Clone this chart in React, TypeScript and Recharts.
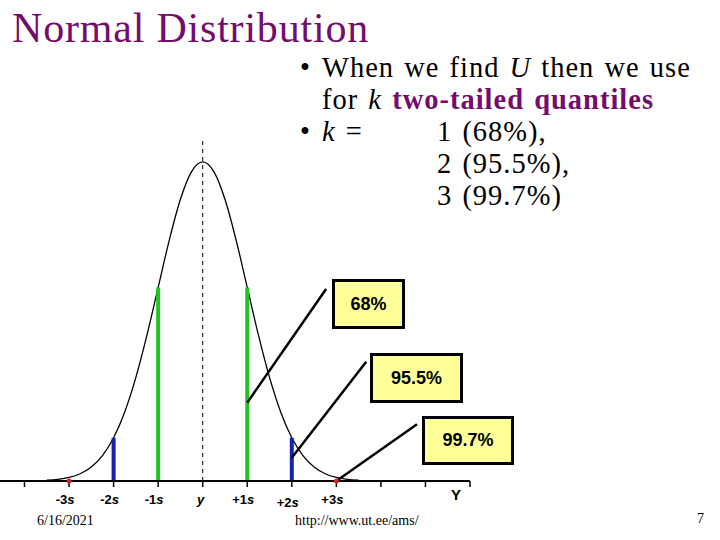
import { ComposedChart, Line, XAxis, YAxis, ReferenceLine, ReferenceDot } from "recharts";

// normal curve (x in sigma units, height in density)
const curveX = [
  -3.5, -3.25, -3, -2.75, -2.5, -2.25, -2, -1.75, -1.5, -1.25, -1, -0.75, -0.5, -0.25, 0,
  0.25, 0.5, 0.75, 1, 1.25, 1.5, 1.75, 2, 2.25, 2.5, 2.75, 3, 3.25, 3.5
];
const curveDensity = [
  0.001, 0.002, 0.0044, 0.0091, 0.0175, 0.0317, 0.054, 0.0863, 0.1295, 0.1826, 0.242, 0.3011, 0.3521, 0.3867, 0.3989,
  0.3867, 0.3521, 0.3011, 0.242, 0.1826, 0.1295, 0.0863, 0.054, 0.0317, 0.0175, 0.0091, 0.0044, 0.002, 0.001
];

const axisTicks = [-4, -3, -2, -1, 0, 1, 2, 3, 4, 5, 6];
const tickLabels = ["", "-3s", "-2s", "-1s", "y", "+1s", "+2s", "+3s", "", "", ""];

const quantileSigma = [1, 2];
const quantileHeight = [0.242, 0.054];
const quantileColors = ["#22c422", "#1421b4"];
const tailSigma = [3];

const boxLabels = ["68%", "95.5%", "99.7%"];
const leaderFrom = [
  { x: 1, y: 0.098 },
  { x: 2, y: 0.029 },
  { x: 3, y: 0 }
];
const leaderTo = [
  { x: 2.77, y: 0.24 },
  { x: 3.67, y: 0.149 },
  { x: 4.81, y: 0.071 }
];

const data = curveX.map((x, i) => ({ x, density: curveDensity[i] }));

const boxPos = [
  { left: 332, top: 279, width: 73, height: 50 },
  { left: 370, top: 353, width: 93, height: 50 },
  { left: 422, top: 416, width: 92, height: 49 }
];

const serif = '"Liberation Serif", "Times New Roman", serif';
const sans = '"Liberation Sans", Arial, sans-serif';
const purple = "#740c6e";

function SigmaTick(props: any) {
  const { x, y, payload } = props;
  const label = tickLabels[axisTicks.indexOf(payload.value)];
  if (!label) return null;
  if (label === "y") {
    return (
      <text x={x - 2} y={y + 15} textAnchor="middle" fontFamily={sans} fontWeight="bold" fontStyle="italic" fontSize={13} fill="#000">
        y
      </text>
    );
  }
  const dy = label === "+2s" ? 18 : 15;
  return (
    <text x={x - 4} y={y + dy} textAnchor="middle" fontFamily={sans} fontWeight="bold" fontSize={13} fill="#000">
      <tspan>{label.slice(0, -1)}</tspan>
      <tspan fontStyle="italic">s</tspan>
    </text>
  );
}

// slide bullet text: lines are packed 32px apart
function line(top: number, children: any, left = 322) {
  return (
    <div
      style={{
        position: "absolute",
        left,
        top,
        height: 32,
        lineHeight: "32px",
        fontSize: 28.5,
        letterSpacing: 1,
        wordSpacing: 2,
        fontFamily: serif,
        whiteSpace: "nowrap",
        color: "#000"
      }}
    >
      {children}
    </div>
  );
}

export default function App() {
  return (
    <div style={{ position: "absolute", left: 0, top: 0, width: 720, height: 540, background: "#fff", overflow: "hidden" }}>
      <div style={{ position: "absolute", left: 0, top: 0 }}>
        <ComposedChart width={720} height={540} data={data} margin={{ top: 121, right: 250, bottom: 29, left: 0 }}>
          <XAxis
            type="number"
            dataKey="x"
            domain={[-4.55, 6]}
            ticks={axisTicks}
            interval={0}
            allowDataOverflow
            height={30}
            tickSize={6}
            tick={<SigmaTick />}
            tickLine={{ stroke: "#000", strokeWidth: 1.5 }}
            axisLine={{ stroke: "#000", strokeWidth: 2 }}
          />
          <YAxis type="number" domain={[0, 0.45]} hide width={0} />
          <ReferenceLine
            segment={[{ x: 0, y: 0 }, { x: 0, y: 0.43 }]}
            stroke="#000"
            strokeWidth={1}
            strokeDasharray="4 4"
          />
          <Line type="monotone" dataKey="density" stroke="#000" strokeWidth={1.3} dot={false} isAnimationActive={false} />
          {quantileSigma.flatMap((s, i) =>
            [-s, s].map((sx) => (
              <ReferenceLine
                key={`q${sx}`}
                segment={[{ x: sx, y: 0 }, { x: sx, y: quantileHeight[i] }]}
                stroke={quantileColors[i]}
                strokeWidth={4}
              />
            ))
          )}
          {tailSigma.flatMap((s) =>
            [-s, s].map((sx) => <ReferenceDot key={`t${sx}`} x={sx} y={0} r={2.5} fill="#c42a2a" stroke="none" />)
          )}
          {boxLabels.map((b, i) => (
            <ReferenceLine key={b} segment={[leaderFrom[i], leaderTo[i]]} stroke="#000" strokeWidth={2.5} />
          ))}
        </ComposedChart>
      </div>

      <div
        style={{
          position: "absolute",
          left: 12,
          top: 7,
          fontSize: 42,
          lineHeight: "42px",
          letterSpacing: 0.8,
          fontFamily: serif,
          color: purple,
          whiteSpace: "nowrap"
        }}
      >
        Normal Distribution
      </div>

      {line(52, <span>•</span>, 300)}
      {line(52, <>When we find <i>U</i> then we use</>)}
      {line(84, <>for <i>k</i> <b style={{ color: purple }}>two-tailed quantiles</b></>)}
      {line(116, <span>•</span>, 300)}
      {line(116, <><i>k</i> =</>)}
      {line(116, <>1 (68%),</>, 437)}
      {line(148, <>2 (95.5%),</>, 437)}
      {line(180, <>3 (99.7%)</>, 437)}

      {boxLabels.map((b, i) => (
        <div
          key={b}
          style={{
            position: "absolute",
            boxSizing: "border-box",
            ...boxPos[i],
            border: "3px solid #000",
            background: "#ffff99",
            display: "flex",
            alignItems: "center",
            justifyContent: "center",
            fontFamily: sans,
            fontWeight: "bold",
            fontSize: 18
          }}
        >
          {b}
        </div>
      ))}

      <div style={{ position: "absolute", left: 451, top: 486, fontFamily: sans, fontWeight: "bold", fontSize: 15 }}>Y</div>

      <div style={{ position: "absolute", left: 37, top: 513, fontFamily: serif, fontSize: 14 }}>6/16/2021</div>
      <div style={{ position: "absolute", left: 295, top: 513, fontFamily: serif, fontSize: 14 }}>http://www.ut.ee/ams/</div>
      <div style={{ position: "absolute", left: 697, top: 511, fontFamily: serif, fontSize: 14 }}>7</div>
    </div>
  );
}
